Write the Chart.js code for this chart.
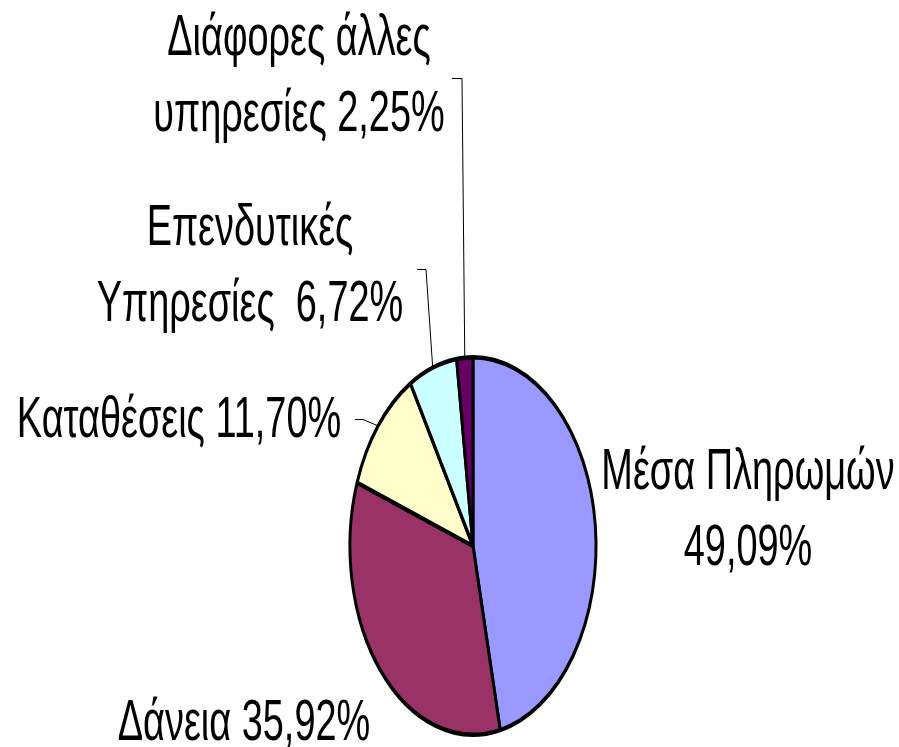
<!DOCTYPE html>
<html>
<head>
<meta charset="utf-8">
<script src="https://cdn.jsdelivr.net/npm/chart.js@4.4.1/dist/chart.umd.min.js"></script>
<style>
  body { margin: 0; background: #fff; }
  #wrap { width: 899px; height: 747px; }
</style>
</head>
<body>
<div id="wrap"><canvas id="mycanvas"></canvas></div>
<script>
// values (they add up to 105,68 - the pie normalises them)
var names = ['Μέσα Πληρωμών', 'Δάνεια', 'Καταθέσεις', 'Επενδυτικές Υπηρεσίες', 'Διάφορες άλλες υπηρεσίες'];
var shares = [49.09, 35.92, 11.70, 6.72, 2.25];
var colors = ['#9999FF', '#993366', '#FFFFCC', '#CCFFFF', '#660066'];

// how each label is split into lines
var labelLines = [
	['Μέσα Πληρωμών', '{v}'],
	['Δάνεια {v}'],
	['Καταθέσεις {v}'],
	['Επενδυτικές', 'Υπηρεσίες  {v}'],
	['Διάφορες άλλες', 'υπηρεσίες {v}']
];
// label placement: centre x, first baseline, leader tick (null = no leader)
var labelPos = [
	{ x: 748, y: 489, lead: null },
	{ x: 244, y: 740, lead: null },
	{ x: 179, y: 437, lead: [355, 419, 363] },
	{ x: 250, y: 245, lead: [417, 269, 426] },
	{ x: 299, y: 55, lead: [452, 78, 462] }
];

var PIE_SX = 0.652;   // the pie is drawn as an ellipse
var TEXT_SX = 0.665;  // and the text is squeezed the same way
var FONT = '57px "Liberation Sans", Arial, sans-serif';
var LINE_H = 76;

function fmt(v) {
	return v.toFixed(2).replace('.', ',') + '%';
}

var squeeze = {
	id: 'squeeze',
	beforeDatasetsDraw: function(chart) {
		var ctx = chart.ctx;
		var arc = chart.getDatasetMeta(0).data[0];
		ctx.save();
		ctx.translate(arc.x, 0);
		ctx.scale(PIE_SX, 1);
		ctx.translate(-arc.x, 0);
	},
	afterDatasetsDraw: function(chart) {
		chart.ctx.restore();
	}
};

var pieLabels = {
	id: 'pieLabels',
	afterDraw: function(chart) {
		var ctx = chart.ctx;
		var arcs = chart.getDatasetMeta(0).data;
		for (var i = 0; i < arcs.length; i++) {
			var a = arcs[i];
			var p = labelPos[i];
			var lines = labelLines[i];

			if (p.lead) {
				var mid = (a.startAngle + a.endAngle) / 2;
				var ex = a.x + Math.cos(mid) * a.outerRadius * PIE_SX;
				var ey = a.y + Math.sin(mid) * a.outerRadius;
				ctx.save();
				ctx.strokeStyle = '#000';
				ctx.lineWidth = 1;
				ctx.beginPath();
				ctx.moveTo(p.lead[0], p.lead[1] + 0.5);
				ctx.lineTo(p.lead[2], p.lead[1] + 0.5);
				ctx.lineTo(ex, ey);
				ctx.stroke();
				ctx.restore();
			}

			for (var j = 0; j < lines.length; j++) {
				var txt = lines[j].replace('{v}', fmt(shares[i]));
				ctx.save();
				ctx.translate(p.x, p.y + j * LINE_H);
				ctx.scale(TEXT_SX, 1);
				ctx.font = FONT;
				ctx.fillStyle = '#000';
				ctx.textAlign = 'center';
				ctx.textBaseline = 'alphabetic';
				ctx.fillText(txt, 0, 0);
				ctx.restore();
			}
		}
	}
};

var ctx = document.getElementById('mycanvas');
var pieChart = new Chart(ctx, {
	type: 'pie',
	data: {
		labels: names,
		datasets: [{
			data: shares,
			backgroundColor: colors,
			borderColor: '#000',
			borderWidth: 4.5
		}]
	},
	options: {
		responsive: true,
		maintainAspectRatio: false,
		animation: false,
		events: [],
		layout: { padding: { left: 282, right: 235, top: 355, bottom: 10 } },
		plugins: {
			legend: { display: false },
			tooltip: { enabled: false }
		}
	},
	plugins: [squeeze, pieLabels]
});
</script>
</body>
</html>
